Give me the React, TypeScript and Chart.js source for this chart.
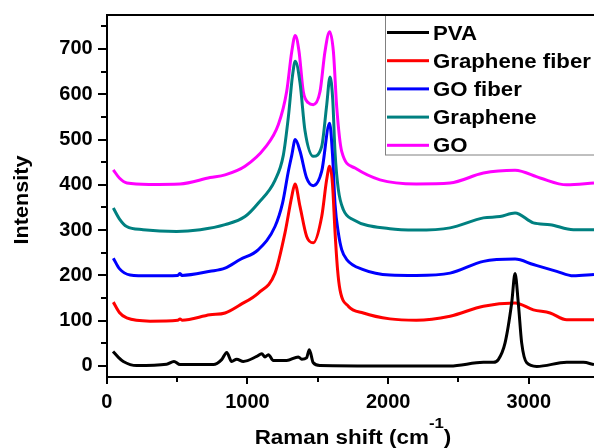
import React, { useEffect, useRef } from "react";
import { Chart, registerables } from "chart.js";

Chart.register(...registerables);

const seriesNames = ["PVA", "Graphene fiber", "GO fiber", "Graphene", "GO"];
const seriesColors = ["#000000", "#ff0000", "#0000ff", "#008080", "#ff00ff"];

const pvaShift = [45, 80, 118, 213, 426, 478, 521, 758, 817, 853, 888, 924, 971, 1066, 1102, 1125, 1149, 1184, 1279, 1362, 1386, 1420, 1440, 1468, 1516, 2000, 2440, 2677, 2748, 2783, 2831, 2878, 2902, 2925, 2949, 2985, 3056, 3269, 3387, 3463];
const pvaIntensity = [32, 20, 10, 1, 4, 10, 3, 3, 14, 30, 10, 15, 10, 21, 27, 20, 25, 12, 12, 20, 15, 18, 36, 7, 1, 0, 0, 8, 8, 14, 51, 139, 204, 139, 51, 7, -1, 8, 8, 3];

const grapheneFiberShift = [47, 90, 142, 308, 505, 521, 535, 734, 841, 948, 1078, 1196, 1267, 1315, 1338, 1374, 1421, 1468, 1528, 1563, 1584, 1604, 1623, 1640, 1658, 1717, 1824, 2013, 2200, 2440, 2677, 2902, 3032, 3151, 3269, 3463];
const grapheneFiberIntensity = [141, 118, 106, 99, 101, 104, 101, 113, 117, 135, 161, 205, 294, 374, 402, 352, 286, 272, 330, 411, 441, 404, 294, 215, 168, 132, 117, 104, 101, 110, 132, 139, 124, 117, 102, 102];

const goFiberShift = [47, 90, 166, 308, 505, 521, 535, 734, 841, 948, 1078, 1196, 1250, 1291, 1315, 1340, 1374, 1421, 1468, 1528, 1584, 1604, 1623, 1646, 1670, 1706, 1823, 2013, 2200, 2440, 2677, 2902, 3032, 3198, 3316, 3463];
const goFiberIntensity = [238, 215, 201, 199, 200, 204, 200, 209, 216, 235, 257, 308, 360, 430, 465, 500, 474, 415, 398, 430, 536, 470, 356, 294, 257, 235, 213, 201, 200, 205, 231, 236, 224, 209, 199, 202];

const grapheneShift = [47, 90, 142, 259, 497, 665, 841, 983, 1078, 1196, 1255, 1291, 1320, 1340, 1374, 1409, 1468, 1528, 1563, 1587, 1606, 1623, 1646, 1682, 1753, 2013, 2200, 2440, 2677, 2795, 2902, 3032, 3151, 3316, 3463];
const grapheneIntensity = [349, 325, 308, 301, 297, 301, 312, 330, 360, 410, 465, 550, 640, 673, 625, 520, 463, 485, 575, 638, 590, 470, 390, 345, 323, 303, 300, 305, 327, 330, 338, 316, 312, 301, 301];

const goShift = [47, 90, 144, 300, 521, 735, 841, 983, 1125, 1220, 1279, 1315, 1340, 1367, 1397, 1433, 1468, 1516, 1551, 1584, 1611, 1635, 1670, 1765, 1942, 2200, 2440, 2677, 2902, 3080, 3269, 3463];
const goIntensity = [433, 415, 404, 401, 402, 416, 422, 441, 482, 533, 606, 694, 730, 694, 606, 581, 577, 606, 694, 738, 694, 570, 474, 437, 411, 402, 404, 426, 432, 415, 400, 404];

const xMin = 0;
const xMax = 3463;
const yMin = -25;
const yMax = 775;
const xMajorTicks = [0, 1000, 2000, 3000];
const xMinorTicks = [500, 1500, 2500];
const yMajorTicks = [0, 100, 200, 300, 400, 500, 600, 700];
const yMinorTicks = [50, 150, 250, 350, 450, 550, 650, 750];
const xTitleMain = "Raman shift (cm";
const xTitleSup = "-1";
const xTitleEnd = ")";
const yTitle = "Intensity";

const FONT = "'Liberation Sans', Arial, Helvetica, sans-serif";

const toPoints = (xs: number[], ys: number[]) => xs.map((x, i) => ({ x, y: ys[i] }));

export default function App() {
  const ref = useRef<HTMLCanvasElement>(null);

  useEffect(() => {
    const canvas = ref.current;
    if (!canvas) return;
    const allX = [pvaShift, grapheneFiberShift, goFiberShift, grapheneShift, goShift];
    const allY = [pvaIntensity, grapheneFiberIntensity, goFiberIntensity, grapheneIntensity, goIntensity];
    const datasets = seriesNames.map((name, i) => ({
      label: name,
      data: toPoints(allX[i], allY[i]),
      borderColor: seriesColors[i],
      backgroundColor: seriesColors[i],
      borderWidth: 3,
      pointRadius: 0,
      cubicInterpolationMode: "monotone" as const,
      fill: false,
    }));

    const framePlugin = {
      id: "frame",
      afterDraw(chart: any) {
        const ctx: CanvasRenderingContext2D = chart.ctx;
        const xs = chart.scales.x;
        const ys = chart.scales.y;
        const left = Math.round(xs.getPixelForValue(xMin));
        const right = Math.ceil(xs.getPixelForValue(xMax));
        const top = Math.round(ys.getPixelForValue(yMax));
        const bottom = Math.round(ys.getPixelForValue(yMin));
        ctx.save();
        ctx.globalAlpha = 1;
        ctx.globalCompositeOperation = "source-over";
        ctx.fillStyle = "#000000";
        ctx.fillRect(left - 1, top - 1, 2, bottom - top + 2);
        ctx.fillRect(left - 1, bottom - 1, right - left + 1, 2);
        yMajorTicks.forEach((v) => {
          const y = Math.round(ys.getPixelForValue(v));
          ctx.fillRect(left - 9, y - 1, 9, 2);
        });
        yMinorTicks.forEach((v) => {
          const y = Math.round(ys.getPixelForValue(v));
          ctx.fillRect(left - 6, y - 1, 6, 2);
        });
        xMajorTicks.forEach((v) => {
          const x = Math.round(xs.getPixelForValue(v));
          ctx.fillRect(x - 1, bottom, 2, 7);
        });
        xMinorTicks.forEach((v) => {
          const x = Math.round(xs.getPixelForValue(v));
          ctx.fillRect(x - 1, bottom, 2, 5);
        });

        // legend
        const lx = right - 209;
        const ly = top;
        ctx.fillStyle = "#fff";
        ctx.fillRect(lx, ly + 1, 240, 139);
        ctx.strokeStyle = "#808080";
        ctx.lineWidth = 1;
        ctx.strokeRect(lx + 0.5, ly + 0.5, 240, 139.5);
        ctx.fillStyle = "#000000";
        ctx.fillRect(left - 1, top - 1, right - left + 1, 2);
        ctx.font = `bold 20px ${FONT}`;
        ctx.textBaseline = "alphabetic";
        ctx.textAlign = "left";
        seriesNames.forEach((name, i) => {
          const cy = ly + 17.5 + i * 28.2;
          ctx.fillStyle = seriesColors[i];
          ctx.fillRect(lx + 2, cy - 1.5, 42, 3);
          ctx.fillStyle = "#000";
          ctx.save();
          ctx.translate(lx + 48, cy + 7);
          ctx.scale(1.11, 1);
          ctx.fillText(name, 0, 0);
          ctx.restore();
        });

        // x title with superscript (slightly widened like the reference)
        const stretch = 1.12;
        ctx.fillStyle = "#000";
        const mainFont = `bold 20px ${FONT}`;
        const supFont = `bold 15px ${FONT}`;
        ctx.font = mainFont;
        const w1 = ctx.measureText(xTitleMain).width;
        const w3 = ctx.measureText(xTitleEnd).width;
        ctx.font = supFont;
        const w2 = ctx.measureText(xTitleSup).width;
        const cx = xs.getPixelForValue(1750);
        const base = 444;
        ctx.save();
        ctx.translate(cx - ((w1 + w2 + w3) * stretch) / 2, base);
        ctx.scale(stretch, 1);
        let tx = 0;
        ctx.font = mainFont;
        ctx.fillText(xTitleMain, tx, 0);
        tx += w1;
        ctx.font = supFont;
        ctx.fillText(xTitleSup, tx, -16);
        tx += w2;
        ctx.font = mainFont;
        ctx.fillText(xTitleEnd, tx, 0);
        ctx.restore();

        // y title
        ctx.save();
        ctx.translate(28, (top + bottom) / 2 + 4);
        ctx.rotate(-Math.PI / 2);
        ctx.scale(1.08, 1);
        ctx.textAlign = "center";
        ctx.font = mainFont;
        ctx.fillText(yTitle, 0, 0);
        ctx.restore();
        ctx.restore();
      },
    };

    const chart = new Chart(canvas, {
      type: "line",
      data: { datasets },
      options: {
        responsive: false,
        animation: false,
        devicePixelRatio: 1,
        layout: { padding: { top: 15, right: 0, left: 0, bottom: 0 } },
        plugins: { legend: { display: false }, tooltip: { enabled: false } },
        scales: {
          x: {
            type: "linear",
            min: xMin,
            max: xMax,
            grid: { display: false, drawTicks: false },
            border: { display: false },
            afterBuildTicks: (s: any) => {
              s.ticks = xMajorTicks.map((v) => ({ value: v }));
            },
            afterFit: (s: any) => {
              s.height = 70.7;
              s.paddingLeft = 0;
              s.paddingRight = 0;
            },
            ticks: {
              font: { family: FONT, size: 20, weight: "bold" },
              color: "#000",
              padding: 13,
              maxRotation: 0,
              autoSkip: false,
              callback: (v: any) => String(v),
            },
          },
          y: {
            type: "linear",
            min: yMin,
            max: yMax,
            grid: { display: false, drawTicks: false },
            border: { display: false },
            afterBuildTicks: (s: any) => {
              s.ticks = yMajorTicks.map((v) => ({ value: v }));
            },
            afterFit: (s: any) => {
              s.width = 106.7;
              s.paddingTop = 0;
              s.paddingBottom = 0;
            },
            ticks: {
              font: { family: FONT, size: 20, weight: "bold" },
              color: "#000",
              padding: 14,
              autoSkip: false,
              callback: (v: any) => String(v),
            },
          },
        },
      },
      plugins: [framePlugin],
    } as any);
    return () => chart.destroy();
  }, []);

  return (
    <div style={{ position: "fixed", left: 0, top: 0, width: 594, height: 448, background: "#fff" }}>
      <canvas ref={ref} width={594} height={448} style={{ display: "block", width: 594, height: 448 }} />
    </div>
  );
}
